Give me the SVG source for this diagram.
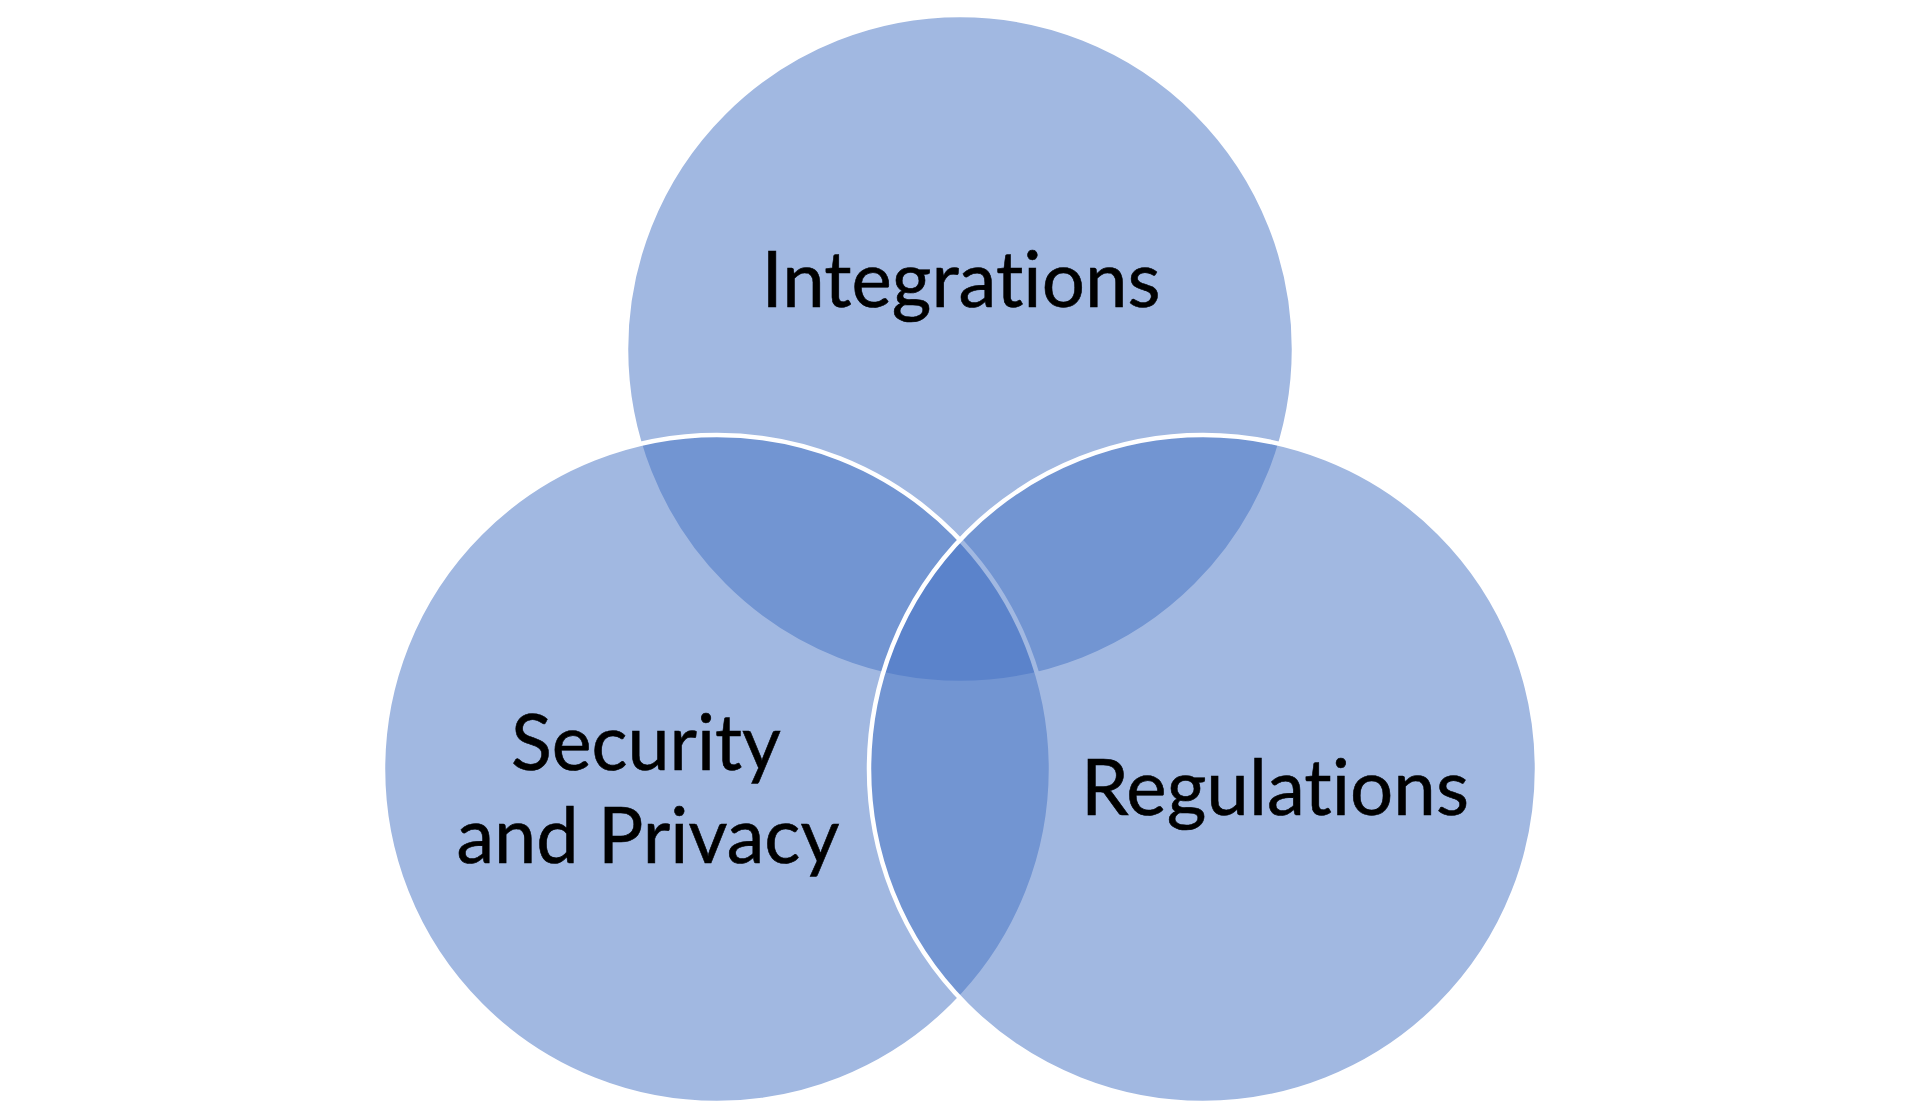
<svg xmlns="http://www.w3.org/2000/svg" width="1920" height="1120" viewBox="0 0 1920 1120">
<style>
.c{fill:#4472C4;fill-opacity:0.5;stroke:#FFFFFF;stroke-width:4.5}
.t{font-family:Lato,"Open Sans","Liberation Sans",sans-serif;font-size:77px;fill:#000000;text-anchor:middle;font-variant-ligatures:none;font-feature-settings:"liga" 0;stroke:#000000;stroke-width:0.6}
</style>
<rect width="1920" height="1120" fill="#FFFFFF"/>
<g id="integrations">
<circle class="c" cx="960" cy="349" r="334"/>
<text class="t" x="961" y="307" textLength="399" lengthAdjust="spacingAndGlyphs">Integrations</text>
</g>
<g id="security-privacy">
<circle class="c" cx="717" cy="769" r="334"/>
<text class="t" x="646" y="770" textLength="270" lengthAdjust="spacingAndGlyphs">Security</text>
<text class="t" x="648" y="863" textLength="383" lengthAdjust="spacingAndGlyphs">and Privacy</text>
</g>
<g id="regulations">
<circle class="c" cx="1203" cy="769" r="334"/>
<text class="t" x="1275" y="815" textLength="388" lengthAdjust="spacingAndGlyphs">Regulations</text>
</g>
<g id="connectors"/>
</svg>
